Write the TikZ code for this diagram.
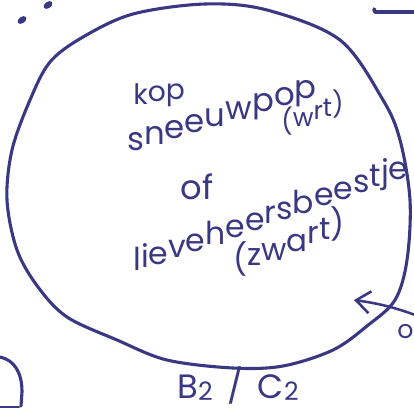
\documentclass[tikz,border=0pt]{standalone}
\usepackage{fontspec}
\setmainfont{Poppins}
\usetikzlibrary{arrows.meta}
\definecolor{inkBlue}{HTML}{3B3883}
\makeatletter
% letters set one by one on a rising base line: #1 = slope, #2 = word
\newcommand\stairtext[2]{\begingroup\dimen@=\z@
  \@tfor\stair@c:=#2\do{\setbox\z@\hbox{\stair@c}\dimen\tw@=\wd\z@
    \raise\dimen@\box\z@\advance\dimen@ by #1\dimen\tw@}\endgroup}
\makeatother
\newcommand\lowtwo{\raisebox{-2pt}{\fontsize{18}{18}\selectfont 2}}

\begin{document}
\begin{tikzpicture}[x=0.025cm,y=0.025cm,
  ink/.style={draw=inkBlue,line width=2.2pt,line cap=round,line join=round},
  hand/.style={text=inkBlue,inner sep=0pt,font=\fontsize{20}{24}\selectfont},
  handword/.style={hand,anchor=base west},
  arr/.style={ink,line width=1.8pt,-{Straight Barb[length=3.5mm,width=5.5mm]}}]
  \useasboundingbox (0,0) rectangle (414,-409);
  \fill[white] (0,0) rectangle (414,-409);
  % head outline
  \draw[ink] plot[smooth cycle,tension=0.55] coordinates {(205,-4) (267,-10) (340,-40) (383,-100) (400,-140) (410,-200) (407,-260) (395,-300) (367,-326) (333,-350) (283,-366) (233,-368) (167,-360) (117,-340) (67,-317) (38,-287) (17,-250) (7,-200) (12,-150) (30,-100) (50,-62) (83,-37) (133,-14)};
  % texts
  \node[handword] (kop) at (133,-104) {\stairtext{0.14}{kop}};
  \node[handword,font=\fontsize{23}{26}\selectfont] (sneeuwpop) at (127,-150) {\stairtext{0.306}{sneeuwpop}};
  \node[handword,font=\fontsize{18}{22}\selectfont] (wrt) at (281,-130) {\stairtext{0.32}{(wrt)}};
  \node[hand,font=\fontsize{24}{26}\selectfont] (of) at (197,-187) {of};
  \node[handword,font=\fontsize{22.4}{26}\selectfont] (lieveheers) at (133,-270) {\stairtext{0.354}{lieveheersbeestje}};
  \node[handword,font=\fontsize{22}{24}\selectfont] (zwart) at (233,-270) {\stairtext{0.35}{(zwart)}};
  \node[hand,font=\fontsize{24}{26}\selectfont] (label) at (238,-385) {B\lowtwo\hspace{4pt} / \hspace{4pt}C\lowtwo};
  \begin{scope}
    \clip (0,0) rectangle (414,-409);
    \node[hand,anchor=west,font=\fontsize{18}{20}\selectfont] (cut) at (397,-329) {o/};
  \end{scope}
  % arrow
  \coordinate (arrstart) at (418,-316);
  \coordinate (arrtip) at (354,-300);
  \draw[arr] (arrstart) to[bend right=6] (arrtip);
  % sketch leftovers
  \foreach \p/\r in {(22,-20)/35, (48,-5)/35} {
    \fill[inkBlue,rotate around={\r:\p}] \p ellipse (5 and 3.2);
  }
  \draw[ink,line width=2.6pt] (374,-9) -- (375,-12) -- (414,-12);
  \draw[ink] (0,-357) .. controls (14,-360) and (22,-372) .. (22,-392) -- (21,-406);
  \draw[ink,line width=1.6pt] (0,-407) -- (19,-407);
\end{tikzpicture}
\end{document}
